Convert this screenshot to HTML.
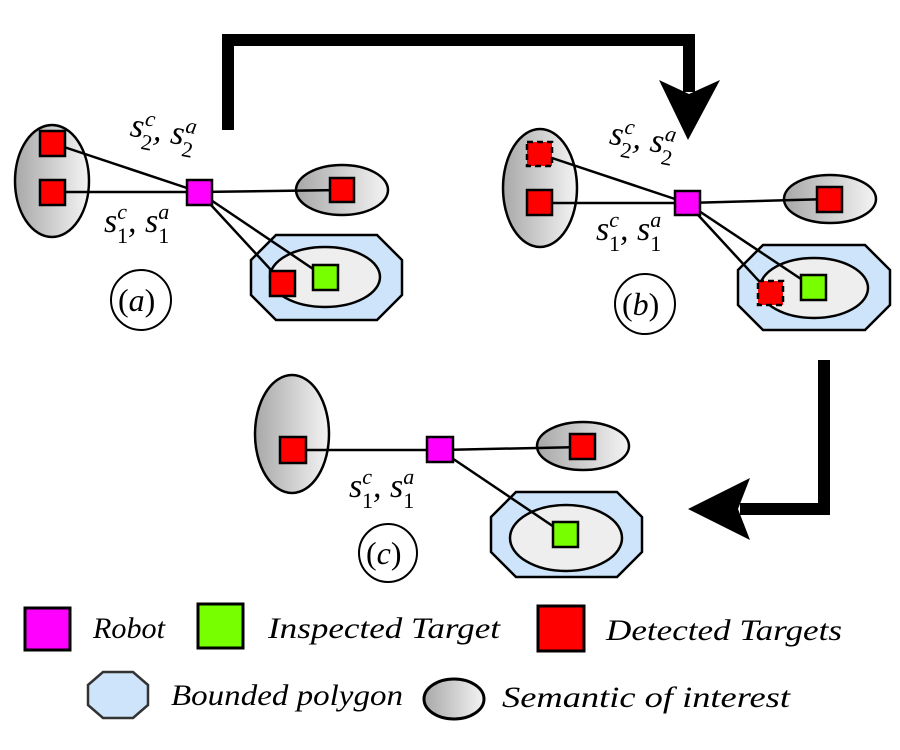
<!DOCTYPE html>
<html><head><meta charset="utf-8"><style>
html,body{margin:0;padding:0;background:#fff;}
svg{display:block;}
.m{font-family:"Liberation Serif",serif;font-style:italic;}
.r{font-family:"Liberation Serif",serif;font-style:normal;}
</style></head><body>
<svg width="900" height="750" viewBox="0 0 900 750" xmlns="http://www.w3.org/2000/svg">
<defs>
<linearGradient id="g" x1="0" y1="0" x2="1" y2="0">
<stop offset="0" stop-color="#a8a8a8"/><stop offset="1" stop-color="#f4f4f4"/>
</linearGradient>
</defs>
<g stroke="#000" stroke-width="2.5">
<polyline points="228,130 228,40 689,40 689,92" fill="none" stroke-width="12"/>
<polygon points="659,80 689,94 720,80 688,140" fill="#000" stroke="none"/>
<polyline points="824,360 824,509 740,509" fill="none" stroke-width="12"/>
<polygon points="688,509 750,478 738,509 750,540" fill="#000" stroke="none"/>

<ellipse cx="52" cy="181" rx="37" ry="56" fill="url(#g)"/>
<ellipse cx="342" cy="190" rx="46" ry="25" fill="url(#g)"/>
<polygon points="276,235 377,235 402,260 402,295 377,320 276,320 251,295 251,260" fill="#cde4fb"/>
<ellipse cx="325" cy="277" rx="55" ry="30" fill="#eeeeee"/>
<line x1="52" y1="143" x2="199" y2="192"/>
<line x1="52" y1="192" x2="199" y2="192"/>
<line x1="199" y1="192" x2="342" y2="190"/>
<line x1="199" y1="192" x2="283" y2="283"/>
<line x1="199" y1="192" x2="325" y2="277"/>
<rect x="40" y="131" width="25" height="25" fill="#f00"/>
<rect x="40" y="180" width="25" height="25" fill="#f00"/>
<rect x="187" y="180" width="25" height="25" fill="#f0f"/>
<rect x="330" y="178" width="24" height="24" fill="#f00"/>
<rect x="270" y="271" width="25" height="25" fill="#f00"/>
<rect x="313" y="265" width="25" height="25" fill="#7f0"/>
<circle cx="141" cy="300" r="30" fill="#fff" stroke-width="2"/>

<ellipse cx="540" cy="188" rx="37" ry="59" fill="url(#g)"/>
<ellipse cx="830" cy="199" rx="46" ry="24" fill="url(#g)"/>
<polygon points="763,245 865,245 890,270 890,305 865,330 763,330 738,305 738,270" fill="#cde4fb"/>
<ellipse cx="814" cy="288" rx="54" ry="30" fill="#eeeeee"/>
<line x1="540" y1="154" x2="687" y2="203"/>
<line x1="540" y1="203" x2="687" y2="203"/>
<line x1="687" y1="203" x2="830" y2="199"/>
<line x1="687" y1="203" x2="770" y2="293"/>
<line x1="687" y1="203" x2="813" y2="287"/>
<rect x="527" y="142" width="25" height="24" fill="#f00" stroke-dasharray="6,4"/>
<rect x="527" y="190" width="25" height="25" fill="#f00"/>
<rect x="675" y="191" width="25" height="24" fill="#f0f"/>
<rect x="817" y="187" width="25" height="25" fill="#f00"/>
<rect x="758" y="281" width="25" height="24" fill="#f00" stroke-dasharray="6,4"/>
<rect x="801" y="275" width="25" height="25" fill="#7f0"/>
<circle cx="645" cy="304" r="30" fill="#fff" stroke-width="2"/>

<ellipse cx="292" cy="434" rx="37" ry="59" fill="url(#g)"/>
<ellipse cx="583" cy="446" rx="46" ry="24" fill="url(#g)"/>
<polygon points="516,492 617,492 642,517 642,552 617,577 516,577 491,552 491,517" fill="#cde4fb"/>
<ellipse cx="566" cy="538" rx="56" ry="33" fill="#eeeeee"/>
<line x1="293" y1="450" x2="440" y2="450"/>
<line x1="440" y1="450" x2="583" y2="447"/>
<line x1="440" y1="450" x2="566" y2="535"/>
<rect x="280" y="437" width="26" height="26" fill="#f00"/>
<rect x="427" y="437" width="26" height="25" fill="#f0f"/>
<rect x="570" y="434" width="25" height="25" fill="#f00"/>
<rect x="553" y="522" width="25" height="25" fill="#7f0"/>
<circle cx="388" cy="553" r="29" fill="#fff" stroke-width="2"/>

<rect x="25" y="608" width="45" height="42" fill="#f0f" stroke-width="3"/>
<rect x="198" y="604" width="45" height="44" fill="#7f0" stroke-width="3"/>
<rect x="538" y="606" width="46" height="45" fill="#f00" stroke-width="3"/>
<polygon points="103,672 133,672 148,685 148,705 133,718 103,718 88,705 88,685" fill="#cde4fb" stroke="#333"/>
<ellipse cx="454" cy="699" rx="30" ry="20" fill="url(#g)" stroke-width="3"/>
</g>

<g class="m" fill="#000">
<text x="118" y="311" font-size="32" class="r">(<tspan class="m">a</tspan>)</text>
<text x="622" y="315" font-size="32" class="r">(<tspan class="m">b</tspan>)</text>
<text x="366" y="564" font-size="32" class="r">(<tspan class="m">c</tspan>)</text>

<g transform="rotate(10 165 145)">
<text x="128" y="142" font-size="34">s<tspan font-size="22" dy="-13">c</tspan><tspan font-size="22" dx="-10" dy="24" class="r">2</tspan><tspan dy="-11">, s</tspan><tspan font-size="22" dy="-13">a</tspan><tspan font-size="22" dx="-11" dy="24" class="r">2</tspan></text>
</g>
<text x="104" y="232" font-size="34">s<tspan font-size="22" dy="-13">c</tspan><tspan font-size="22" dx="-10" dy="24" class="r">1</tspan><tspan dy="-11">, s</tspan><tspan font-size="22" dy="-13">a</tspan><tspan font-size="22" dx="-11" dy="24" class="r">1</tspan></text>

<g transform="rotate(10 645 150)">
<text x="608" y="150" font-size="34">s<tspan font-size="22" dy="-13">c</tspan><tspan font-size="22" dx="-10" dy="24" class="r">2</tspan><tspan dy="-11">, s</tspan><tspan font-size="22" dy="-13">a</tspan><tspan font-size="22" dx="-11" dy="24" class="r">2</tspan></text>
</g>
<text x="596" y="240" font-size="34">s<tspan font-size="22" dy="-13">c</tspan><tspan font-size="22" dx="-10" dy="24" class="r">1</tspan><tspan dy="-11">, s</tspan><tspan font-size="22" dy="-13">a</tspan><tspan font-size="22" dx="-11" dy="24" class="r">1</tspan></text>

<text x="349" y="497" font-size="34">s<tspan font-size="22" dy="-13">c</tspan><tspan font-size="22" dx="-10" dy="24" class="r">1</tspan><tspan dy="-11">, s</tspan><tspan font-size="22" dy="-13">a</tspan><tspan font-size="22" dx="-11" dy="24" class="r">1</tspan></text>

<text x="93" y="638" font-size="30" textLength="72" lengthAdjust="spacingAndGlyphs">Robot</text>
<text x="268" y="638" font-size="30" textLength="232" lengthAdjust="spacingAndGlyphs">Inspected Target</text>
<text x="606" y="640" font-size="30" textLength="236" lengthAdjust="spacingAndGlyphs">Detected Targets</text>
<text x="171" y="705" font-size="30" textLength="232" lengthAdjust="spacingAndGlyphs">Bounded polygon</text>
<text x="502" y="707" font-size="30" textLength="288" lengthAdjust="spacingAndGlyphs">Semantic of interest</text>
</g>
</svg>
</body></html>
